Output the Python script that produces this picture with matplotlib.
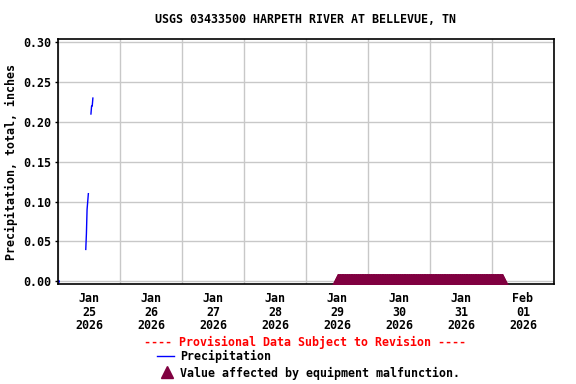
import numpy as np
import pandas as pd
import matplotlib
matplotlib.use("Agg")
import matplotlib.pyplot as plt
from matplotlib.lines import Line2D

# precipitation, total (inches), 15-minute values; NaN = gap in the record
precip_times = ["2026-01-25 00:00",
                "2026-01-25 10:45", "2026-01-25 11:00", "2026-01-25 11:15",
                "2026-01-25 11:30", "2026-01-25 11:45",
                "2026-01-25 12:00",
                "2026-01-25 12:45", "2026-01-25 13:00", "2026-01-25 13:15",
                "2026-01-25 13:30"]
precip_vals = [0.0,
               0.04, 0.06, 0.09, 0.10, 0.11,
               np.nan,
               0.21, 0.22, 0.22, 0.23]

# equipment malfunction period
malf_start = "2026-01-29 12:15"
malf_end = "2026-02-01 04:00"

day_labels = ["Jan\n25\n2026", "Jan\n26\n2026", "Jan\n27\n2026", "Jan\n28\n2026",
              "Jan\n29\n2026", "Jan\n30\n2026", "Jan\n31\n2026", "Feb\n01\n2026"]

font = {"family": "DejaVu Sans Mono", "weight": "bold", "size": 8.4}

fig = plt.figure(figsize=(5.76, 3.84), dpi=100)
ax = fig.add_axes([0.1007, 0.2604, 0.8611, 0.6373])

t = pd.to_datetime(precip_times)
v = np.array(precip_vals, dtype=float)
# lone first point, then the later segments
ax.plot(t[:1], v[:1], color="blue", lw=1, marker="s", ms=1)
ax.plot(t[1:], v[1:], color="blue", lw=1)

malf_t = pd.date_range(malf_start, malf_end, freq="15min")
ax.plot(malf_t, np.zeros(len(malf_t)), ls="none", marker="^", ms=9.4,
        color="#800040", mec="#800040", clip_on=True, zorder=3)

start = pd.Timestamp("2026-01-25")
ax.set_xlim(start, start + pd.Timedelta(days=8))
ax.set_ylim(-0.0034, 0.3038)

ax.set_xticks([start + pd.Timedelta(days=i) for i in range(9)])
ax.set_xticklabels([])
ax.set_xticks([start + pd.Timedelta(days=i, hours=12) for i in range(8)], minor=True)
ax.set_xticklabels(day_labels, minor=True, fontdict=font, linespacing=1.03)
ax.tick_params(axis="x", which="both", length=0, pad=6)

yt = [0.0, 0.05, 0.10, 0.15, 0.20, 0.25, 0.30]
ax.set_yticks(yt)
ax.set_yticklabels(["%.2f" % y for y in yt], fontdict=font)
ax.tick_params(axis="y", length=2, width=1, pad=3)

ax.grid(True, which="major", color="#c8c8c8", lw=1)
ax.set_axisbelow(True)
for s in ax.spines.values():
    s.set_linewidth(1.2)

ax.set_ylabel("Precipitation, total, inches", fontdict=font, labelpad=4)
fig.text(0.53, 0.95, "USGS 03433500 HARPETH RIVER AT BELLEVUE, TN",
         ha="center", va="center", **font)

fig.text(0.53, 0.107, "---- Provisional Data Subject to Revision ----",
         ha="center", va="center", color="red", **font)
fig.text(0.3125, 0.072, "Precipitation", ha="left", va="center", **font)
fig.text(0.3125, 0.028, "Value affected by equipment malfunction.",
         ha="left", va="center", **font)
fig.add_artist(Line2D([0.272, 0.302], [0.073, 0.073], color="blue", lw=1,
                      transform=fig.transFigure))
fig.add_artist(Line2D([0.29], [0.031], marker="^", ms=8, color="#800040",
                      transform=fig.transFigure))

fig.savefig("out.png", dpi=100)
